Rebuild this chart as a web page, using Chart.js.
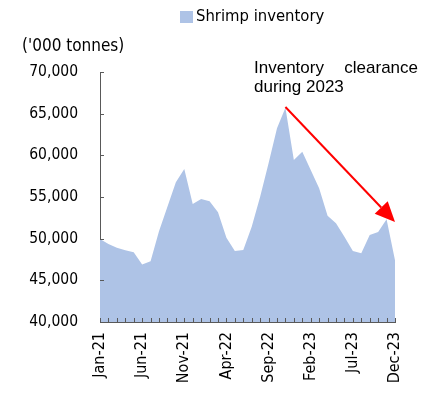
<!DOCTYPE html>
<html>
<head>
<meta charset="utf-8">
<script src="https://cdn.jsdelivr.net/npm/chart.js@4.4.0/dist/chart.umd.min.js"></script>
<style>
  html, body { margin: 0; padding: 0; background: #fff; }
  #wrap { width: 433px; height: 397px; }
</style>
</head>
<body>
<div id="wrap"><canvas id="myChart" width="433" height="397"></canvas></div>
<script>
var months = [
  "Jan-21", "Feb-21", "Mar-21", "Apr-21", "May-21", "Jun-21", "Jul-21", "Aug-21", "Sep-21", "Oct-21", "Nov-21", "Dec-21",
  "Jan-22", "Feb-22", "Mar-22", "Apr-22", "May-22", "Jun-22", "Jul-22", "Aug-22", "Sep-22", "Oct-22", "Nov-22", "Dec-22",
  "Jan-23", "Feb-23", "Mar-23", "Apr-23", "May-23", "Jun-23", "Jul-23", "Aug-23", "Sep-23", "Oct-23", "Nov-23", "Dec-23"
];
var inventory = [
  49960, 49360, 48900, 48600, 48360, 46900, 47300, 50900, 53840, 56760, 58360, 54160,
  54760, 54480, 53160, 50120, 48520, 48640, 51440, 55040, 59040, 63240, 65720, 59440,
  60440, 58240, 56040, 52760, 51840, 50240, 48520, 48240, 50440, 50800, 52320, 47400
];
var yTicks = [40000, 45000, 50000, 55000, 60000, 65000, 70000];
var arrowFrom = { month: "Nov-22", value: 65800 };
var arrowTo = { month: "Dec-23", value: 52000 };

var font = "'DejaVu Sans Condensed', 'DejaVu Sans', sans-serif";
var fill = "rgb(174,195,230)";

var extras = {
  id: "extras",
  afterDraw: function (chart) {
    var c = chart.ctx;
    var x = chart.scales.x, y = chart.scales.y;
    c.save();
    // legend
    c.fillStyle = fill;
    c.fillRect(180, 11, 13, 12);
    c.fillStyle = "#000";
    c.font = "16.5px " + font;
    c.textBaseline = "middle";
    c.textAlign = "left";
    c.fillText(chart.data.datasets[0].label, 196, 17);
    // unit
    c.font = "17px " + font;
    c.fillText("('000 tonnes)", 22, 47);
    // tick marks (inside)
    c.strokeStyle = "#595959";
    c.lineWidth = 1;
    c.beginPath();
    yTicks.forEach(function (v) {
      var py = Math.round(y.getPixelForValue(v)) + 0.5;
      c.moveTo(x.left, py);
      c.lineTo(x.left + 4, py);
    });
    months.forEach(function (m, i) {
      var px = Math.round(x.getPixelForValue(i)) + 0.5;
      c.moveTo(px, y.bottom);
      c.lineTo(px, y.bottom - 4);
    });
    c.stroke();
    // annotation text
    c.font = "17px 'Liberation Sans', Arial, sans-serif";
    c.textBaseline = "alphabetic";
    c.fillStyle = "#000";
    c.textAlign = "left";
    c.fillText("Inventory", 254, 73);
    c.textAlign = "right";
    c.fillText("clearance", 418, 73);
    c.textAlign = "left";
    c.fillText("during 2023", 254, 92);
    // arrow
    var x1 = x.getPixelForValue(months.indexOf(arrowFrom.month));
    var y1 = y.getPixelForValue(arrowFrom.value);
    var x2 = x.getPixelForValue(months.indexOf(arrowTo.month));
    var y2 = y.getPixelForValue(arrowTo.value);
    var ang = Math.atan2(y2 - y1, x2 - x1);
    var hl = 20, hw = 9;
    var bx = x2 - hl * Math.cos(ang), by = y2 - hl * Math.sin(ang);
    c.strokeStyle = "#FF0000";
    c.fillStyle = "#FF0000";
    c.lineWidth = 2;
    c.beginPath();
    c.moveTo(x1, y1);
    c.lineTo(bx, by);
    c.stroke();
    c.beginPath();
    c.moveTo(x2, y2);
    c.lineTo(bx + hw * Math.sin(ang), by - hw * Math.cos(ang));
    c.lineTo(bx - hw * Math.sin(ang), by + hw * Math.cos(ang));
    c.closePath();
    c.fill();
    c.restore();
  }
};

var ctx = document.getElementById("myChart").getContext("2d");
var myChart = new Chart(ctx, {
  type: "line",
  data: {
    labels: months,
    datasets: [
      {
        label: "Shrimp inventory",
        data: inventory,
        fill: "start",
        backgroundColor: fill,
        borderWidth: 0,
        borderColor: fill,
        pointRadius: 0,
        tension: 0,
      },
    ],
  },
  options: {
    responsive: false,
    animation: false,
    layout: { padding: { top: 72, left: 0, right: 38, bottom: 0 } },
    plugins: { legend: { display: false }, tooltip: { enabled: false } },
    scales: {
      x: {
        z: 1,
        grid: { display: false, drawTicks: false },
        border: { display: true, color: "#595959", width: 1 },
        afterFit: function (s) { s.height = 75; },
        ticks: {
          autoSkip: false,
          minRotation: 90,
          maxRotation: 90,
          padding: 10,
          color: "#000",
          font: { family: font, size: 16 },
          callback: function (v, i) { return i % 5 === 0 ? months[i] : ""; },
        },
      },
      y: {
        z: 1,
        min: 40000,
        max: 70000,
        grid: { display: false, drawTicks: false },
        border: { display: true, color: "#595959", width: 1 },
        afterFit: function (s) { s.width = 100; },
        afterBuildTicks: function (s) { s.ticks = yTicks.map(function (v) { return { value: v }; }); },
        ticks: {
          padding: 22,
          color: "#000",
          font: { family: font, size: 15.5 },
          callback: function (v) { return v.toLocaleString("en-US"); },
        },
      },
    },
  },
  plugins: [extras],
});
</script>
</body>
</html>
